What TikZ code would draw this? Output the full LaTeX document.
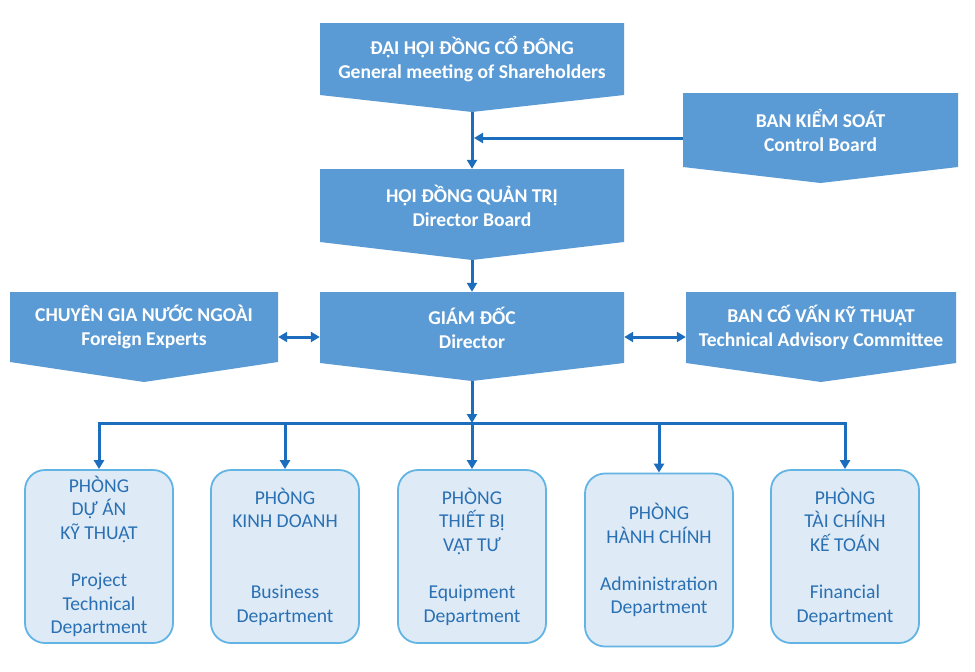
\documentclass[tikz,border=0pt]{standalone}
\usepackage{fontspec}
\setmainfont{Carlito}
\usetikzlibrary{arrows.meta}
\definecolor{boxblue}{HTML}{5B9BD5}
\definecolor{arrowblue}{HTML}{1C6DBE}
\definecolor{deptfill}{HTML}{DEEBF7}
\definecolor{deptline}{HTML}{62B4E4}
\definecolor{depttext}{HTML}{2A70B3}
\tikzset{
  toptext/.style={text=white,font=\fontsize{19.6}{24}\selectfont\bfseries,align=center,inner sep=0pt},
  conn/.style={draw=arrowblue,line width=3pt,-{Triangle[length=9pt,width=10pt]}},
  dconn/.style={draw=arrowblue,line width=3pt,{Triangle[length=9pt,width=10pt]}-{Triangle[length=9pt,width=10pt]}},
  bus/.style={draw=arrowblue,line width=3pt},
  dept/.style={draw=deptline,fill=deptfill,line width=1.8pt,rounded corners=20pt,
    text=depttext,font=\fontsize{19.6}{23.6}\selectfont,align=center,
    minimum width=148pt,minimum height=173pt,inner sep=0pt}
}
% name, left, top, right, sidebottom, tip, text
\newcommand\pentabox[7]{%
  \fill[boxblue] (#2,#3) -- (#4,#3) -- (#4,#5) -- ({(#2+#4)/2},#6) -- (#2,#5) -- cycle;
  \node[toptext,minimum width={#4-#2},minimum height={#5-#3}] (#1) at ({(#2+#4)/2},{(#3+#5)/2}) {#7};
  \coordinate (#1-tip) at ({(#2+#4)/2},#6);
}
\begin{document}
\begin{tikzpicture}[x=1pt,y=-1pt]
\fill[white] (0,0) rectangle (975,672);
\useasboundingbox (0,0) rectangle (975,672);

\pentabox{gm}{320}{23}{624}{95}{112}{ĐẠI HỘI ĐỒNG CỔ ĐÔNG\\General meeting of Shareholders}
\pentabox{cb}{683}{93}{958}{167}{183}{BAN KIỂM SOÁT\\Control Board}
\pentabox{hd}{320}{169}{624}{242}{260}{HỘI ĐỒNG QUẢN TRỊ\\Director Board}
\pentabox{dir}{320}{292}{624}{363}{381}{GIÁM ĐỐC\\Director}
\pentabox{fe}{10}{292}{278}{362}{382}{CHUYÊN GIA NƯỚC NGOÀI\\Foreign Experts}
\pentabox{ta}{686}{292}{956}{363}{382}{BAN CỐ VẤN KỸ THUẬT\\Technical Advisory Committee}

\node[dept] (d1) at (99,556.5) {PHÒNG\\DỰ ÁN\\KỸ THUẬT\\[23.6pt]Project\\Technical\\Department};
\node[dept] (d2) at (285,556.5) {PHÒNG\\KINH DOANH\\[47.2pt]Business\\Department};
\node[dept] (d3) at (472,556.5) {PHÒNG\\THIẾT BỊ\\VẬT TƯ\\[23.6pt]Equipment\\Department};
\node[dept] (d4) at (659,560) {PHÒNG\\HÀNH CHÍNH\\[23.6pt]Administration\\Department};
\node[dept] (d5) at (845,556.5) {PHÒNG\\TÀI CHÍNH\\KẾ TOÁN\\[23.6pt]Financial\\Department};

% connectors
\coordinate (j1) at (474,138);
\draw[conn] (gm-tip) -- (hd.north);
\draw[conn] (cb.west |- j1) -- (j1);
\draw[conn] (hd-tip) -- (dir.north);
\draw[dconn] (fe.east |- 0,337) -- (dir.west |- 0,337);
\draw[dconn] (dir.east |- 0,337) -- (ta.west |- 0,337);
\coordinate (bj) at (472,423);
\draw[conn] (dir-tip) -- (bj);
\draw[bus] ([xshift=-1.5pt]d1.north |- bj) -- ([xshift=1.5pt]d5.north |- bj);
\foreach \d in {d1,d2,d3,d4,d5}{
  \draw[conn] (\d.north |- bj) -- (\d.north);
}
\end{tikzpicture}
\end{document}
